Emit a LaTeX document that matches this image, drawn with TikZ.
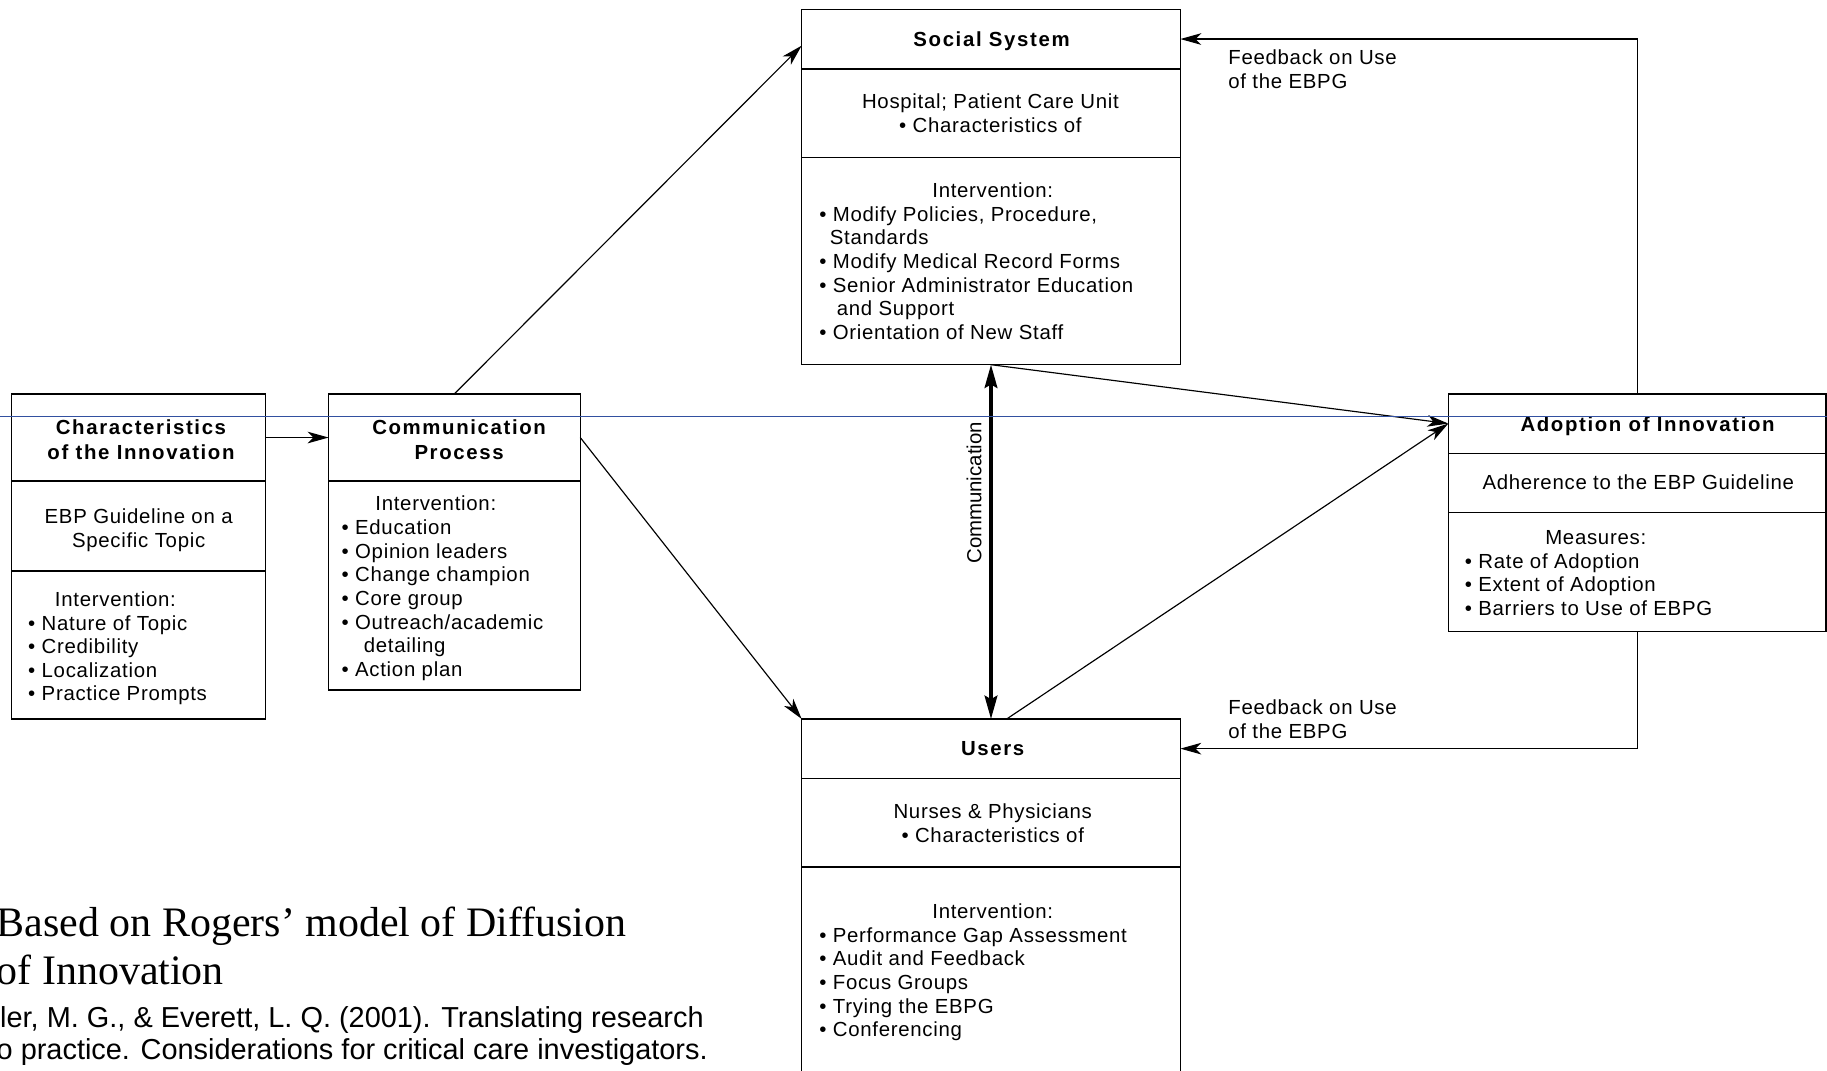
\documentclass[tikz,border=0pt]{standalone}
\usepackage{fontspec}
\setmainfont{Liberation Sans}
\newfontfamily\boxfam{Liberation Sans}[LetterSpace=3.5]
\newfontfamily\plainfam{Liberation Sans}
\newfontfamily\titlefam{Liberation Sans}[LetterSpace=8]
\newfontfamily\notefam{Liberation Serif}
\usetikzlibrary{arrows.meta}
\definecolor{rulecol}{RGB}{50,80,160}

\begin{document}
\begin{tikzpicture}[x=1pt,y=-1pt,
  sect/.style={draw, line width=1.3pt, inner sep=0pt, outer sep=0pt, anchor=north west},
  body/.style={inner sep=0pt, align=left, anchor=north west,
    font=\boxfam\fontsize{17.5}{20.3}\selectfont},
  cbody/.style={body, align=center, anchor=north},
  ttl/.style={inner sep=0pt, align=center, anchor=north,
    font=\titlefam\bfseries\fontsize{17.5}{22}\selectfont},
  conn/.style={line width=1pt, -{Stealth[length=18pt,width=10pt,inset=5pt]}},
  commarrow/.style={line width=2.6pt,
    {Stealth[length=20pt,width=11pt,inset=3pt]}-{Stealth[length=20pt,width=11pt,inset=3pt]}},
  rule/.style={draw=rulecol, line width=0.7pt},
  note/.style={anchor=base west, inner sep=0pt, font=\notefam\fontsize{36}{41}\selectfont},
  ref/.style={anchor=base west, inner sep=0pt, font=\plainfam\fontsize{24.8}{27}\selectfont}
]
\useasboundingbox (0,0) rectangle (1568,919);
\clip (0,0) rectangle (1568,919);

% Characteristics of the Innovation
\node[sect, minimum width=218pt, minimum height=75pt]  (charT) at (10,338) {};
\node[sect, minimum width=218pt, minimum height=77pt]  (charM) at (charT.south west) {};
\node[sect, minimum width=218pt, minimum height=127pt] (charB) at (charM.south west) {};
\node[ttl]   (charTt) at (121,357) {\strut Characteristics\\of the Innovation};
\node[cbody] (charMt) at (119,435) {\strut EBP Guideline on a\\Specific Topic};
\node[body]  (charBt) at (24,506) {\strut\hspace*{23pt}Intervention:\\• Nature of Topic\\• Credibility\\• Localization\\• Practice Prompts};

% Communication Process
\node[sect, minimum width=216pt, minimum height=75pt]  (commT) at (282,338) {};
\node[sect, minimum width=216pt, minimum height=179pt] (commB) at (commT.south west) {};
\node[ttl]  (commTt) at (394,357) {\strut Communication\\Process};
\node[body] (commBt) at (293,424) {\strut\hspace*{29pt}Intervention:\\• Education\\• Opinion leaders\\• Change champion\\• Core group\\• Outreach/academic\\\hspace*{19pt}detailing\\• Action plan};

% Social System
\node[sect, minimum width=325pt, minimum height=51pt]  (socT) at (688,8) {};
\node[sect, minimum width=325pt, minimum height=76pt]  (socM) at (socT.south west) {};
\node[sect, minimum width=325pt, minimum height=178pt] (socB) at (socM.south west) {};
\node[ttl]   (socTt) at (851,24) {\strut Social System};
\node[cbody] (socMt) at (850,79) {\strut Hospital; Patient Care Unit\\• Characteristics of};
\node[body]  (socBt) at (703,155) {\strut\hspace*{97pt}Intervention:\\• Modify Policies, Procedure,\\\hspace*{9pt}Standards\\• Modify Medical Record Forms\\• Senior Administrator Education\\\hspace*{15pt}and Support\\• Orientation of New Staff};

% Users
\node[sect, minimum width=325pt, minimum height=51pt]  (usrT) at (688,617) {};
\node[sect, minimum width=325pt, minimum height=76pt]  (usrM) at (usrT.south west) {};
\node[sect, minimum width=325pt, minimum height=190pt] (usrB) at (usrM.south west) {};
\node[ttl]   (usrTt) at (852,633) {\strut Users};
\node[cbody] (usrMt) at (852,688) {\strut Nurses \& Physicians\\• Characteristics of};
\node[body]  (usrBt) at (703,774) {\strut\hspace*{97pt}Intervention:\\• Performance Gap Assessment\\• Audit and Feedback\\• Focus Groups\\• Trying the EBPG\\• Conferencing};

% Adoption of Innovation
\node[sect, minimum width=324pt, minimum height=51pt]  (adoT) at (1243,338) {};
\node[sect, minimum width=324pt, minimum height=51pt]  (adoM) at (adoT.south west) {};
\node[sect, minimum width=324pt, minimum height=102pt] (adoB) at (adoM.south west) {};
\node[ttl]   (adoTt) at (1414,355) {\strut Adoption of Innovation};
\node[cbody] (adoMt) at (1406,406) {\strut Adherence to the EBP Guideline};
\node[body]  (adoBt) at (1257,453) {\strut\hspace*{69pt}Measures:\\• Rate of Adoption\\• Extent of Adoption\\• Barriers to Use of EBPG};

% Feedback labels
\node[body] (fbsoc) at (1054,41)  {\strut Feedback on Use\\of the EBPG};
\node[body] (fbusr) at (1054,599) {\strut Feedback on Use\\of the EBPG};

% Connectors
\draw[conn] (charT.east) -- (commT.west);
\draw[conn] (commT.north) -- (socT.182);
\draw[conn] (commT.east) -- (usrT.north west);
\draw[commarrow] (socB.south) -- (usrT.north);
\draw[conn] (socB.south) -- (adoT.west);
\draw[conn] (usrT.62) -- (adoT.west);
\draw[conn] (adoT.north) |- (socT.east);
\draw[conn] (adoB.south) |- (usrT.east);

\node[rotate=90, inner sep=0pt, font=\plainfam\fontsize{17.5}{20}\selectfont] (commlbl) at (836,423) {Communication};

% Source note
\node[note] (note1) at (-3,804) {Based on Rogers’ model of Diffusion};
\node[note] (note2) at (-3,845) {of Innovation};
\node[ref]  (ref1) at (0,882) {ler, M. G., \& Everett, L. Q. (2001). Translating research};
\node[ref]  (ref2) at (-3,909) {o practice. Considerations for critical care investigators.};

% Horizontal guide rule
\draw[rule] (0,357) -- (1568,357);
\end{tikzpicture}
\end{document}
